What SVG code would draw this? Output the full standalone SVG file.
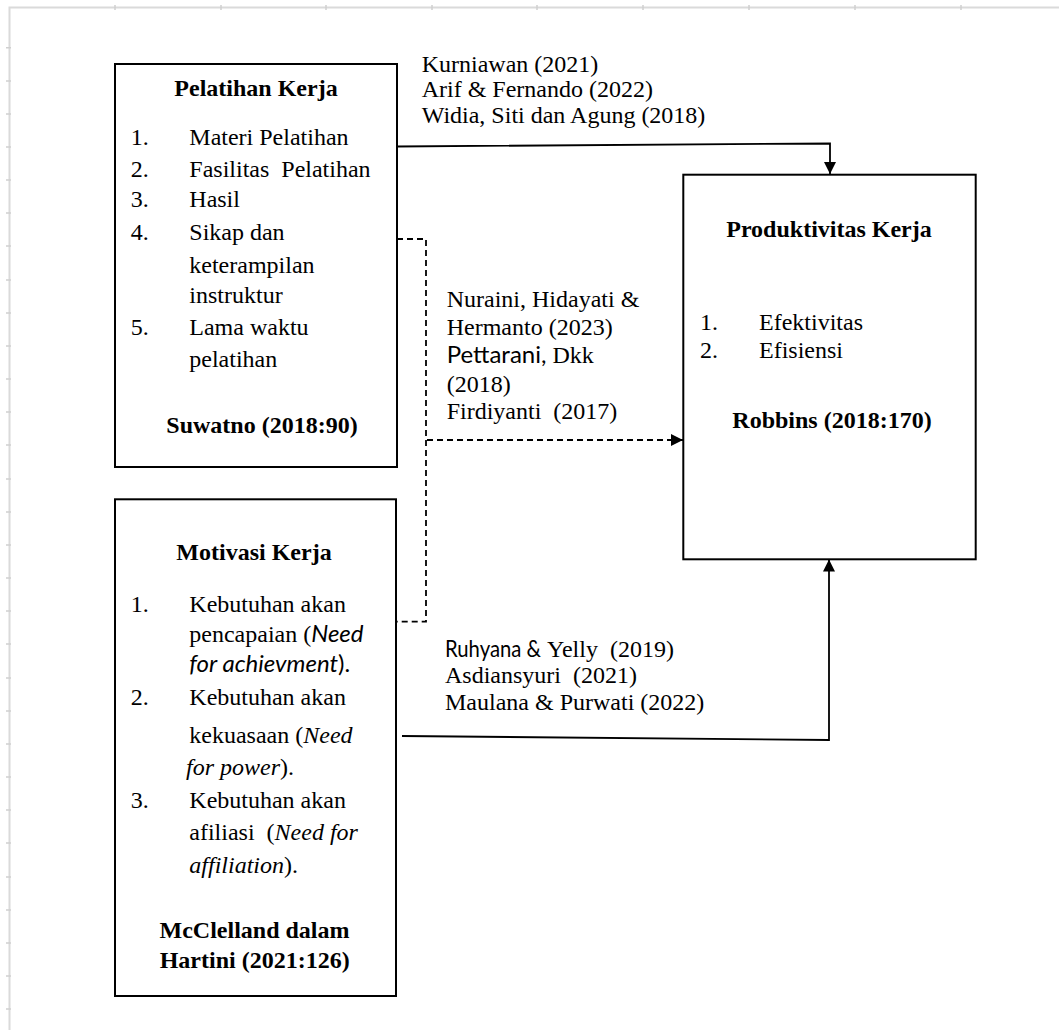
<svg xmlns="http://www.w3.org/2000/svg" width="1059" height="1030" viewBox="0 0 1059 1030">
<defs>
<style>
.box{fill:#fff;stroke:#000;stroke-width:2}
.t{font-family:"Liberation Serif","Times New Roman",serif;font-size:24px;fill:#000}
.b{font-weight:bold}
.c{text-anchor:middle}
.i{font-style:italic}
.s{font-family:Lato,"Liberation Sans",sans-serif}
.ln{fill:none;stroke:#000;stroke-width:1.8}
.dash{stroke-dasharray:6 4}
.rule{stroke:#dadada;stroke-width:2;fill:none}
.tick{stroke:#cfcfcf;stroke-width:1.5}
</style>
<marker id="arr" viewBox="0 0 12 12" refX="12" refY="6" markerWidth="12" markerHeight="12" orient="auto" markerUnits="userSpaceOnUse"><path d="M0,0 L12,6 L0,12 z" fill="#000"/></marker>
</defs>
<rect width="1059" height="1030" fill="#fff"/>
<g id="page-border">
<path class="rule" d="M9.5,1030 V7.5 H1059"/>
<path class="tick" d="M115,5 v5 M221,5 v5 M326,5 v5 M432,5 v5 M537,5 v5 M643,5 v5 M749,5 v5 M855,5 v5 M961,5 v5"/>
<path class="tick" d="M6,47.7 h5 M6,81 h5 M6,114 h5 M6,147 h5 M6,180 h5 M6,213 h5 M6,246 h5 M6,280 h5 M6,313 h5 M6,346 h5 M6,379 h5 M6,412 h5 M6,445 h5 M6,479 h5 M6,512 h5 M6,545 h5 M6,578 h5 M6,611 h5 M6,644 h5 M6,678 h5 M6,711 h5 M6,744 h5 M6,777 h5 M6,810 h5 M6,843 h5 M6,877 h5 M6,910 h5 M6,943 h5 M6,976 h5 M6,1009 h5"/>
</g>
<g id="connectors">
<polyline class="ln" points="397,146.5 830,143.5 830,174" marker-end="url(#arr)"/>
<polyline class="ln dash" points="397,239 426,239 426,621.7 395,621.7"/>
<polyline class="ln dash" points="427,440 683,440" marker-end="url(#arr)"/>
<polyline class="ln" points="402,736 829,740 829,559.5" marker-end="url(#arr)"/>
<text class="t" x="421.7" y="71.7">Kurniawan (2021)</text>
<text class="t" x="421.7" y="97">Arif &amp; Fernando (2022)</text>
<text class="t" x="421.7" y="123">Widia, Siti dan Agung (2018)</text>
<text class="t" x="446.7" y="307.3">Nuraini, Hidayati &amp;</text>
<text class="t" x="446.7" y="335">Hermanto (2023)</text>
<text class="t" x="446.7" y="362.7"><tspan class="s">Pettarani,</tspan> Dkk</text>
<text class="t" x="446.7" y="391.7">(2018)</text>
<text class="t" x="446.7" y="419" xml:space="preserve">Firdiyanti  (2017)</text>
<text class="t s" x="445" y="656.7" textLength="96" lengthAdjust="spacingAndGlyphs">Ruhyana &amp;</text>
<text class="t" x="547" y="656.7" xml:space="preserve">Yelly  (2019)</text>
<text class="t" x="445" y="683.3" xml:space="preserve">Asdiansyuri  (2021)</text>
<text class="t" x="445" y="710">Maulana &amp; Purwati (2022)</text>
</g>
<g id="pelatihan-kerja">
<rect class="box" x="115" y="64" width="282" height="403"/>
<text class="t b c" x="256" y="95.7">Pelatihan Kerja</text>
<text class="t" x="130.7" y="145">1.</text><text class="t" x="189.3" y="145">Materi Pelatihan</text>
<text class="t" x="130.7" y="176.7">2.</text><text class="t" x="189.3" y="176.7" xml:space="preserve">Fasilitas  Pelatihan</text>
<text class="t" x="130.7" y="206.7">3.</text><text class="t" x="189.3" y="206.7">Hasil</text>
<text class="t" x="130.7" y="240">4.</text><text class="t" x="189.3" y="240">Sikap dan</text>
<text class="t" x="189.3" y="273">keterampilan</text>
<text class="t" x="189.3" y="303">instruktur</text>
<text class="t" x="130.7" y="335">5.</text><text class="t" x="189.3" y="335">Lama waktu</text>
<text class="t" x="189.3" y="366.7">pelatihan</text>
<text class="t b c" x="262" y="433">Suwatno (2018:90)</text>
</g>
<g id="motivasi-kerja">
<rect class="box" x="115" y="499.3" width="281" height="496.7"/>
<text class="t b c" x="254" y="560">Motivasi Kerja</text>
<text class="t" x="130.7" y="611.7">1.</text><text class="t" x="189.3" y="611.7">Kebutuhan akan</text>
<text class="t" x="189.3" y="641.7">pencapaian (<tspan class="s i">Need</tspan></text>
<text class="t s" x="189.3" y="671.7"><tspan class="i">for achievment</tspan>).</text>
<text class="t" x="130.7" y="705">2.</text><text class="t" x="189.3" y="705">Kebutuhan akan</text>
<text class="t" x="189.3" y="743.3">kekuasaan (<tspan class="i">Need</tspan></text>
<text class="t" x="186" y="775"><tspan class="i">for power</tspan>).</text>
<text class="t" x="130.7" y="808.3">3.</text><text class="t" x="189.3" y="808.3">Kebutuhan akan</text>
<text class="t" x="189.3" y="840" xml:space="preserve">afiliasi  (<tspan class="i">Need for</tspan></text>
<text class="t" x="189.3" y="873.3"><tspan class="i">affiliation</tspan>).</text>
<text class="t b c" x="254.5" y="938.3">McClelland dalam</text>
<text class="t b c" x="254.7" y="968.3">Hartini (2021:126)</text>
</g>
<g id="produktivitas-kerja">
<rect class="box" x="683.3" y="174.7" width="292.4" height="384.6"/>
<text class="t b c" x="829" y="236.7">Produktivitas Kerja</text>
<text class="t" x="700" y="330">1.</text><text class="t" x="759" y="330">Efektivitas</text>
<text class="t" x="700" y="358.3">2.</text><text class="t" x="759" y="358.3">Efisiensi</text>
<text class="t b c" x="832" y="428.3">Robbins (2018:170)</text>
</g>
</svg>
